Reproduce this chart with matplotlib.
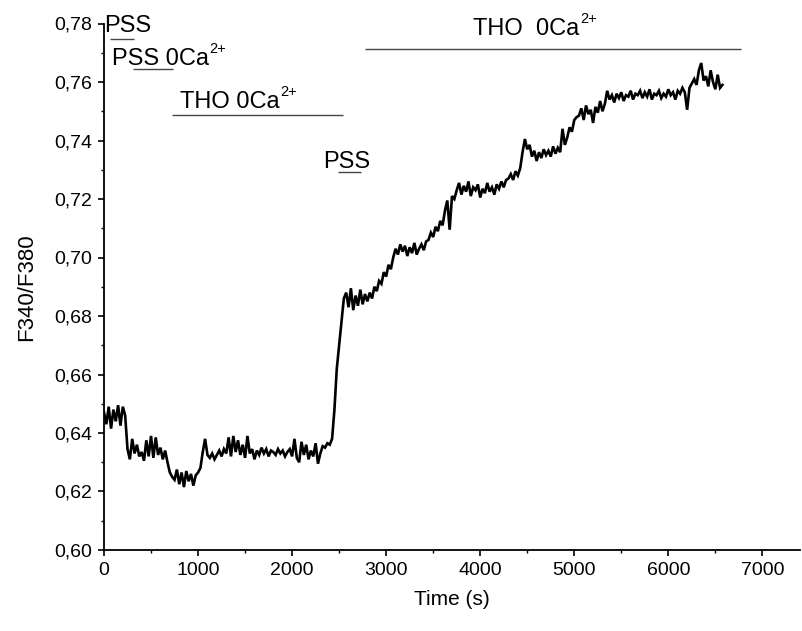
import numpy as np
import matplotlib
matplotlib.use("Agg")
import matplotlib.pyplot as plt
from matplotlib.ticker import MultipleLocator, FuncFormatter

plt.rcParams['font.family'] = ['Liberation Sans', 'DejaVu Sans']

# sampling interval of the trace (s)
dt = 25
# F340/F380 ratio, every 25 s
ratio = [
    0.6470, 0.6430, 0.6490, 0.6415, 0.6480, 0.6440, 0.6495, 0.6425, 0.6490, 0.6460,
    0.6345, 0.6310, 0.6380, 0.6330, 0.6360, 0.6320, 0.6335, 0.6305, 0.6375, 0.6320,
    0.6390, 0.6315, 0.6385, 0.6325, 0.6350, 0.6310, 0.6340,
    0.6300, 0.6265, 0.6250,
    0.6240, 0.6275, 0.6225, 0.6265, 0.6215, 0.6270, 0.6235, 0.6260, 0.6220, 0.6255,
    0.6265, 0.6280,
    0.6335, 0.6380, 0.6325, 0.6315, 0.6330, 0.6310, 0.6325, 0.6340, 0.6320,
    0.6345, 0.6330, 0.6385, 0.6320, 0.6390, 0.6335, 0.6375, 0.6325, 0.6360, 0.6315,
    0.6390, 0.6330, 0.6345, 0.6310, 0.6340,
    0.6325, 0.6350, 0.6330, 0.6345, 0.6320, 0.6340, 0.6335, 0.6325, 0.6345, 0.6330,
    0.6340, 0.6320, 0.6335, 0.6345,
    0.6320, 0.6380, 0.6315, 0.6300, 0.6370, 0.6325, 0.6360, 0.6310, 0.6340, 0.6320,
    0.6365, 0.6295, 0.6330, 0.6355,
    0.6350, 0.6365, 0.6360, 0.6380,
    0.6480, 0.6620, 0.6700, 0.6780, 0.6860,
    0.6880, 0.6830, 0.6895, 0.6820, 0.6870, 0.6835, 0.6890, 0.6840, 0.6875, 0.6850,
    0.6880, 0.6860, 0.6900,
    0.6885, 0.6920, 0.6910, 0.6950, 0.6935, 0.6975, 0.6960,
    0.7000, 0.7030, 0.7010, 0.7045, 0.7020, 0.7040, 0.7005, 0.7035, 0.7015, 0.7050,
    0.7010, 0.7030, 0.7045, 0.7025, 0.7055,
    0.7060, 0.7085, 0.7070, 0.7105, 0.7090, 0.7125, 0.7110,
    0.7160, 0.7195, 0.7095, 0.7210, 0.7200,
    0.7230, 0.7255, 0.7215, 0.7245, 0.7225, 0.7260, 0.7210, 0.7240, 0.7230, 0.7250,
    0.7205, 0.7235, 0.7220, 0.7255, 0.7225, 0.7240, 0.7215, 0.7250, 0.7235, 0.7260,
    0.7240, 0.7265,
    0.7270, 0.7285, 0.7265, 0.7295, 0.7280, 0.7305,
    0.7360, 0.7405, 0.7370, 0.7385,
    0.7345, 0.7365, 0.7330, 0.7360, 0.7340, 0.7370, 0.7350, 0.7365, 0.7345, 0.7380,
    0.7355, 0.7375, 0.7360, 0.7440, 0.7385,
    0.7410, 0.7445, 0.7430, 0.7470, 0.7480,
    0.7485, 0.7510, 0.7470, 0.7520, 0.7490, 0.7505, 0.7460, 0.7515, 0.7495, 0.7535,
    0.7500, 0.7525, 0.7570,
    0.7540, 0.7555, 0.7530, 0.7560, 0.7545, 0.7565, 0.7535, 0.7555, 0.7550, 0.7570,
    0.7540, 0.7560,
    0.7555, 0.7570, 0.7545, 0.7565, 0.7550, 0.7575, 0.7540, 0.7560, 0.7555, 0.7570,
    0.7545, 0.7560, 0.7550, 0.7575, 0.7555, 0.7565, 0.7540, 0.7570, 0.7560, 0.7580,
    0.7565,
    0.7505, 0.7580, 0.7595, 0.7610, 0.7590, 0.7640, 0.7665, 0.7605,
    0.7620, 0.7585, 0.7640, 0.7600, 0.7575, 0.7625, 0.7580, 0.7590,
]
time = np.arange(len(ratio)) * dt

# solution-application annotations: label, superscript, text x, text y, bar start, bar end, bar y
ann_labels = ["PSS", "PSS 0Ca", "THO 0Ca", "PSS", "THO  0Ca"]
ann_super = ["", "2+", "2+", "", "2+"]
ann_text_x = [0, 85, 809, 2330, 3926]
ann_text_y = [0.7771, 0.7658, 0.7511, 0.7306, 0.7761]
bar_start = [64, 309, 723, 2490, 2777]
bar_end = [319, 734, 2543, 2734, 6777]
bar_y = [0.7747, 0.7644, 0.7487, 0.7292, 0.7713]

fig = plt.figure(figsize=(8.02, 6.31), dpi=100)
ax = fig.add_axes([104/802, 81/631, 696/802, 526.5/631])

ax.plot(time, ratio, color='black', lw=1.9, solid_joinstyle='miter')

for lab, sup, tx, ty, b0, b1, by in zip(ann_labels, ann_super, ann_text_x, ann_text_y,
                                          bar_start, bar_end, bar_y):
    t = ax.text(tx, ty, lab, fontsize=17, ha='left', va='baseline', color='black')
    if sup:
        ax.annotate(sup, xy=(1, 0), xycoords=t, xytext=(0.5, 12.5),
                    textcoords='offset points', fontsize=10.5,
                    ha='left', va='baseline', color='black')
    ax.plot([b0, b1], [by, by], color='#454545', lw=1.0, solid_capstyle='butt')

ax.set_xlim(0, 7400)
ax.set_ylim(0.60, 0.78)
ax.xaxis.set_major_locator(MultipleLocator(1000))
ax.xaxis.set_minor_locator(MultipleLocator(500))
ax.yaxis.set_major_locator(MultipleLocator(0.02))
ax.yaxis.set_minor_locator(MultipleLocator(0.01))
ax.yaxis.set_major_formatter(FuncFormatter(lambda v, p: f"{v:.2f}".replace('.', ',')))

for s in ['top', 'right']:
    ax.spines[s].set_visible(False)
for s in ['left', 'bottom']:
    ax.spines[s].set_linewidth(1.3)
ax.tick_params(which='major', direction='out', length=4.5, width=1.2, labelsize=14, pad=4)
ax.tick_params(which='minor', direction='out', length=2.5, width=1.0)

ax.set_xlabel("Time (s)", fontsize=15, labelpad=8)
ax.set_ylabel("F340/F380", fontsize=16, labelpad=12)

fig.savefig("out.png", dpi=100)
